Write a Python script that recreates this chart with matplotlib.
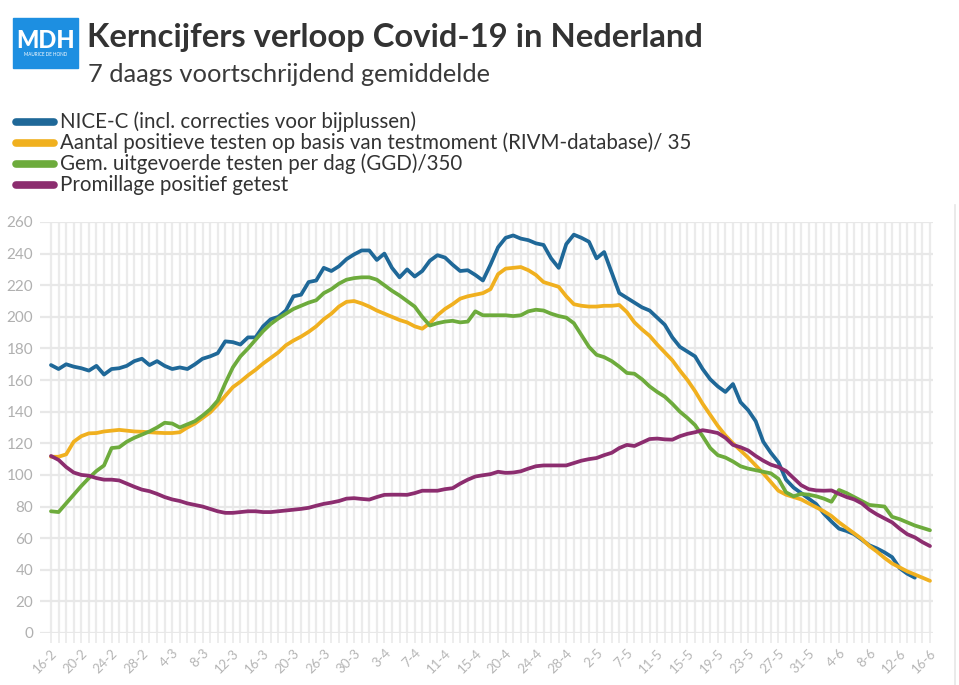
import matplotlib.pyplot as plt
import numpy as np
from matplotlib.lines import Line2D
from matplotlib.patches import Rectangle

# 7-daags gemiddelde, one value per category (day on the x axis)
nice_c = [
    169.5, 167, 170, 168.5, 167.5, 166, 169, 163.5, 167, 167.5,
    169, 172, 173.5, 169.5, 172, 169, 167, 168, 167, 170,
    173.5, 175, 177, 184.5, 184, 182.5, 187, 187, 194, 198.5,
    200, 204, 213, 214, 222, 223, 231, 229, 232, 236.5,
    239.5, 242, 242, 236, 240, 231, 225, 230, 225.5, 229,
    235.5, 239, 237.5, 233, 229, 229.5, 226.5, 223, 233, 244,
    250, 251.5, 249.5, 248.5, 246.5, 245.5, 237, 231, 246, 252,
    250, 247.5, 237, 241, 228, 215, 212, 209, 206, 204,
    199.5, 195, 187, 181, 178, 175, 167, 160.5, 156, 152.5,
    157.5, 146, 141, 134, 121, 114, 108, 97, 92, 88.5,
    85, 81.5, 75.5, 70.5, 66, 64.5, 62.5, 59, 55.5, 53.5,
    51, 48, 41, 37.5, 35, np.nan, np.nan,
]
positief = [
    111.5, 111.5, 113, 121, 124.5, 126.3, 126.5, 127.5, 128, 128.5,
    128, 127.5, 127.3, 127, 126.7, 126.5, 126.5, 127, 130, 132.5,
    136, 139.5, 144.5, 150, 155.5, 159, 163, 166.5, 170.5, 174,
    177.5, 182, 185, 187.5, 190.5, 194, 198.5, 202, 206.5, 209.5,
    210, 208.5, 206.5, 204, 202, 200, 198, 196.5, 194, 192.5,
    196, 201, 205, 208, 211.5, 213, 214, 215, 217.5, 227,
    230.5, 231, 231.5, 229.5, 226.5, 222, 220.5, 219, 213, 208,
    207, 206.5, 206.5, 207, 207, 207.5, 203, 196.5, 192, 188,
    182.5, 177.5, 172.5, 166, 160, 153, 145, 138, 131, 125,
    120, 115.5, 111, 106, 101, 95.5, 90, 87.5, 86, 84.5,
    82, 79.5, 77, 74, 70, 66.5, 63, 59.5, 55, 51.5,
    47.5, 44, 41.5, 39, 37, 35, 33,
]
testen_ggd = [
    77, 76.5, 82, 87.5, 93, 98, 102.5, 106, 117, 117.5,
    121, 123.5, 125.5, 127.5, 130, 133, 132.5, 130, 132, 134,
    137.5, 141.5, 147, 158, 168, 175, 180, 185.5, 191, 195.5,
    199, 202, 205, 207, 209, 210.5, 215, 217.5, 221, 223.5,
    224.5, 225, 225, 223.5, 220, 216.5, 213.5, 210, 206.5, 200,
    194.5, 196, 197, 197.5, 196.5, 197, 203.5, 201, 201, 201,
    201, 200.5, 201, 203.5, 204.5, 204, 202, 200.5, 199.5, 196,
    188.5, 181, 176, 174.5, 172, 168.5, 164.5, 164, 160.5, 156,
    152.5, 149.5, 145, 140, 136, 131.5, 124.5, 117, 112.5, 111,
    108.5, 105.5, 104, 103, 102, 101, 97.5, 89, 86.5, 88,
    87.5, 86.5, 85, 83, 90.5, 88.5, 86, 83.5, 81, 80.5,
    80, 73.5, 72, 70, 68, 66.5, 65,
]
promillage = [
    112, 109.5, 105, 101.5, 100, 99.5, 98, 97, 97, 96.5,
    94.5, 92.5, 90.7, 89.7, 88, 86, 84.5, 83.5, 82, 81,
    80, 78.5, 77, 76, 76, 76.5, 77, 77, 76.5, 76.5,
    77, 77.5, 78, 78.5, 79.2, 80.5, 81.7, 82.5, 83.5, 85,
    85.3, 84.8, 84.4, 86, 87.4, 87.5, 87.5, 87.4, 88.5, 90,
    90, 90, 91, 91.6, 94.5, 97, 99, 99.8, 100.5, 102,
    101.3, 101.5, 102.3, 104, 105.5, 106, 106, 106, 106, 107.5,
    109, 110, 110.7, 112.5, 114, 117, 119, 118.3, 120.5, 122.7,
    123, 122.5, 122.3, 124.5, 126, 127, 128.3, 127.5, 126.5, 123.5,
    119, 117.5, 115.5, 112, 109, 106.5, 105, 102.5, 98, 93.5,
    91, 90.2, 90, 90.2, 88, 86, 84.5, 82, 78, 75,
    72.5, 70, 66, 62.5, 60.5, 57.5, 55,
]
tick_labels = [
    "16-2", "20-2", "24-2", "28-2", "4-3", "8-3", "12-3", "16-3", "20-3", "26-3",
    "30-3", "3-4", "7-4", "11-4", "15-4", "20-4", "24-4", "28-4", "2-5", "7-5",
    "11-5", "15-5", "19-5", "23-5", "27-5", "31-5", "4-6", "8-6", "12-6", "16-6",
]
legend_labels = [
    "NICE-C (incl. correcties voor bijplussen)",
    "Aantal positieve testen op basis van testmoment (RIVM-database)/ 35",
    "Gem. uitgevoerde testen per dag (GGD)/350",
    "Promillage positief getest",
]
colors = ["#1f6898", "#f0b01f", "#6dab3c", "#8c2d6f"]

W, H = 959, 685
FONT = "Lato"


def fx(px):
    return px / W


def fy(py):
    return 1 - py / H


fig = plt.figure(figsize=(W / 100, H / 100), dpi=100)
fig.patch.set_facecolor("white")

ax = fig.add_axes([fx(40), fy(633), fx(933) - fx(40), fy(222) - fy(633)])
x = np.arange(len(positief))
series = [nice_c, positief, testen_ggd, promillage]
for vals, c in zip(series, colors):
    ax.plot(x, vals, color=c, lw=2.7, solid_joinstyle="round",
            solid_capstyle="round", zorder=3)

ax.set_ylim(0, 260)
ax.set_xlim(-1.45, 116.4)
ax.set_yticks(np.arange(0, 261, 20))
ax.set_xticks(np.arange(0, len(x), 4))
ax.set_xticks(x, minor=True)
ax.set_xticklabels(tick_labels, rotation=45, ha="right",
                   rotation_mode="anchor", family=FONT, fontsize=9.5,
                   color="#b5b5b5")
for lab in ax.get_yticklabels():
    lab.set_family(FONT)
ax.tick_params(axis="y", length=0, labelsize=11, labelcolor="#b0b0b0", pad=5)
ax.tick_params(axis="x", which="both", length=7, width=1.3, color="#ececec",
               pad=3)
ax.grid(True, which="both", axis="x", color="#ebebeb", lw=1.6, zorder=0)
ax.grid(True, which="major", axis="y", color="#e8e8e8", lw=1.6, zorder=0)
for s in ax.spines.values():
    s.set_visible(False)

# logo
fig.patches.append(Rectangle((fx(13), fy(68)), fx(78) - fx(13), fy(18) - fy(68),
                             transform=fig.transFigure, color="#1d8fe1"))
fig.text(fx(45.5), fy(40), "MDH", color="white", fontsize=17, fontweight="black",
         family=FONT, ha="center", va="center")
fig.text(fx(45.5), fy(55), "MAURICE DE HOND", color="white", fontsize=3.3,
         family=FONT, ha="center", va="center")

# titles
fig.text(fx(87), fy(47), "Kerncijfers verloop Covid-19 in Nederland",
         fontsize=23.6, fontweight="bold", color="#333333", family=FONT,
         va="baseline")
fig.text(fx(88), fy(82), "7 daags voortschrijdend gemiddelde",
         fontsize=18.3, color="#3a3a3a", family=FONT, va="baseline")

# legend
for k, (lab, c) in enumerate(zip(legend_labels, colors)):
    yy = 122 + k * 21
    fig.lines.append(Line2D([fx(16), fx(54)], [fy(yy), fy(yy)], lw=5.5,
                            color=c, solid_capstyle="round",
                            transform=fig.transFigure))
    fig.text(fx(60), fy(yy), lab, fontsize=14.8, color="#333333", family=FONT,
             va="center")

# faint frame line on the right
fig.lines.append(Line2D([fx(955), fx(955)], [fy(205), fy(685)], lw=1.2,
                        color="#e6e6e6", transform=fig.transFigure))

fig.savefig("out.png", dpi=100, facecolor="white")
